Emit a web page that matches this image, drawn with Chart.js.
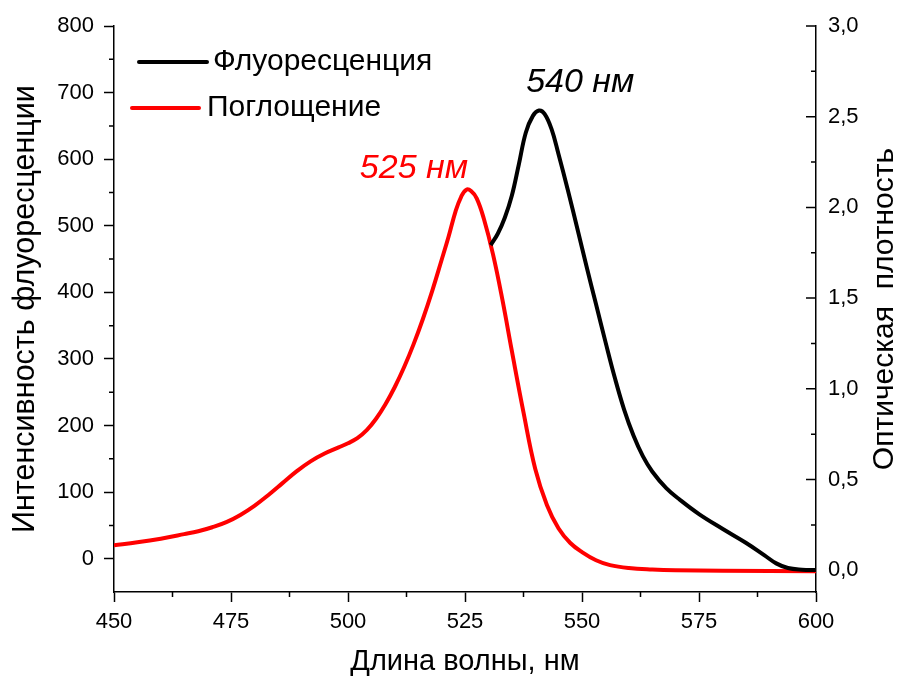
<!DOCTYPE html>
<html>
<head>
<meta charset="utf-8">
<script src="https://cdn.jsdelivr.net/npm/chart.js@4.4.1/dist/chart.umd.min.js"></script>
<style>
  html, body { margin: 0; padding: 0; background: #fff; }
  #wrap { width: 901px; height: 684px; }
</style>
</head>
<body>
<div id="wrap"><canvas id="chart" width="901" height="684"></canvas></div>
<script>
// Fluorescence (left axis), wavelength in nm
const fluorWl  = [530.5, 532, 533.5, 535, 536.5, 538, 539.5, 540.8, 542, 543.5, 545, 547, 549, 551, 553, 555, 557, 559, 561, 563, 565, 568, 571, 575, 580, 585, 589, 591.5, 594, 597, 600];
const fluorVal = [471, 488, 512, 545, 592, 640, 665, 673, 668, 645, 607, 553, 496, 438, 382, 326, 272, 224, 185, 154, 131, 106, 88, 67, 45, 24, 5, -7, -14, -16.5, -17];

// Absorption (right axis, optical density)
const absWl  = [450, 455, 460, 465, 468, 471, 474, 477, 480, 483, 486, 489, 492, 495, 498, 500, 502, 504, 506, 508, 510, 512, 514, 516, 518, 520, 521.5, 523, 524.2, 525.3, 526.3, 527.5, 529, 531, 533, 535, 537.5, 540, 542.5, 545, 547.5, 550, 553, 556, 560, 565, 570, 580, 600];
const absVal = [0.138, 0.154, 0.174, 0.199, 0.215, 0.237, 0.265, 0.305, 0.355, 0.415, 0.48, 0.545, 0.6, 0.643, 0.677, 0.70, 0.728, 0.772, 0.835, 0.915, 1.01, 1.12, 1.245, 1.385, 1.54, 1.71, 1.84, 1.98, 2.06, 2.098, 2.09, 2.05, 1.94, 1.74, 1.49, 1.21, 0.87, 0.56, 0.36, 0.23, 0.15, 0.10, 0.055, 0.028, 0.012, 0.004, 0.0, -0.003, -0.005];

const seriesNames = ['Флуоресценция', 'Поглощение'];
const peakLabels = ['540 нм', '525 нм'];
const xTitle = 'Длина волны, нм';
const yTitle = 'Интенсивность флуоресценции';
const y1Title = 'Оптическая  плотность';

const FONT = "'Liberation Sans', Arial, sans-serif";

const toPoints = (xs, ys) => xs.map((v, i) => ({ x: v, y: ys[i] }));

// minor ticks, inward ticks on the right axis, legend and peak labels
const extras = {
  id: 'extras',
  afterDraw(chart) {
    const ctx = chart.ctx;
    const { x, y, y1 } = chart.scales;
    const area = chart.chartArea;
    ctx.save();
    ctx.strokeStyle = '#000';
    ctx.lineWidth = 1.5;
    ctx.beginPath();
    // x minor ticks (outward)
    for (let v = 462.5; v < 600; v += 25) {
      const px = x.getPixelForValue(v);
      ctx.moveTo(px, area.bottom); ctx.lineTo(px, area.bottom + 5);
    }
    // left minor ticks (outward)
    for (let v = 50; v < 800; v += 100) {
      const py = y.getPixelForValue(v);
      ctx.moveTo(area.left, py); ctx.lineTo(area.left - 5, py);
    }
    // right ticks (inward)
    for (let v = 0; v <= 3.001; v += 0.25) {
      const py = y1.getPixelForValue(v);
      const major = Math.abs(v * 2 - Math.round(v * 2)) < 1e-6;
      ctx.moveTo(area.right, py); ctx.lineTo(area.right - (major ? 10 : 5), py);
    }
    ctx.stroke();

    // legend
    ctx.lineWidth = 4;
    ctx.lineCap = 'round';
    ctx.strokeStyle = '#000';
    ctx.beginPath(); ctx.moveTo(139, 62); ctx.lineTo(207, 62); ctx.stroke();
    ctx.strokeStyle = '#ff0000';
    ctx.beginPath(); ctx.moveTo(132, 108); ctx.lineTo(199, 108); ctx.stroke();
    ctx.fillStyle = '#000';
    ctx.font = '30px ' + FONT;
    ctx.textBaseline = 'middle';
    ctx.textAlign = 'left';
    ctx.fillText(seriesNames[0], 213, 62);
    ctx.fillText(seriesNames[1], 207, 108);

    // peak labels
    ctx.font = 'italic 34px ' + FONT;
    ctx.fillStyle = '#000';
    ctx.textAlign = 'left';
    ctx.fillText(peakLabels[0], x.getPixelForValue(540) - 9, y.getPixelForValue(673) - 28);
    ctx.fillStyle = '#ff0000';
    ctx.textAlign = 'right';
    ctx.fillText(peakLabels[1], x.getPixelForValue(525) + 3, y1.getPixelForValue(2.1) - 21);

    // right axis title, reading bottom to top
    ctx.fillStyle = '#000';
    ctx.font = '30px ' + FONT;
    ctx.textAlign = 'center';
    ctx.translate(885, (area.top + area.bottom) / 2);
    ctx.rotate(-Math.PI / 2);
    ctx.fillText(y1Title, 0, 0);
    ctx.restore();
  }
};

const axisBorder = { display: true, color: '#000', width: 1.5 };
const tickFont = { family: FONT, size: 22 };

new Chart(document.getElementById('chart'), {
  type: 'line',
  data: {
    datasets: [
      {
        label: seriesNames[0],
        data: toPoints(fluorWl, fluorVal),
        borderColor: '#000000',
        borderWidth: 4,
        pointRadius: 0,
        tension: 0.4,
        yAxisID: 'y',
      },
      {
        label: seriesNames[1],
        data: toPoints(absWl, absVal),
        borderColor: '#ff0000',
        borderWidth: 4,
        pointRadius: 0,
        tension: 0.4,
        yAxisID: 'y1',
      },
    ],
  },
  options: {
    responsive: false,
    animation: false,
    layout: { padding: { top: 26, left: 0, right: 0, bottom: 0 } },
    plugins: {
      legend: { display: false },
      tooltip: { enabled: false },
    },
    scales: {
      x: {
        type: 'linear',
        min: 450,
        max: 600,
        border: axisBorder,
        grid: { drawOnChartArea: false, tickLength: 10, tickColor: '#000', tickWidth: 1.5 },
        ticks: { stepSize: 25, color: '#000', font: tickFont, padding: 7, maxRotation: 0 },
        title: { display: true, text: xTitle, color: '#000', font: { family: FONT, size: 29 }, padding: { top: 0, bottom: 5 } },
        afterFit(scale) { scale.height = 92; },
      },
      y: {
        position: 'left',
        min: -50,
        max: 800,
        border: axisBorder,
        grid: { drawOnChartArea: false, tickLength: 10, tickColor: '#000', tickWidth: 1.5 },
        ticks: { stepSize: 100, includeBounds: false, color: '#000', font: tickFont, padding: 10 },
        title: { display: true, text: yTitle, color: '#000', font: { family: FONT, size: 30.5 }, padding: { top: 7, bottom: 0 } },
        afterFit(scale) { scale.width = 114; },
      },
      y1: {
        position: 'right',
        min: -0.12,
        max: 3.0,
        border: axisBorder,
        grid: { drawOnChartArea: false, drawTicks: false },
        ticks: {
          stepSize: 0.5,
          includeBounds: false,
          color: '#000',
          font: tickFont,
          padding: 12,
          callback: v => v.toFixed(1).replace('.', ','),
        },
        afterFit(scale) { scale.width = 85; },
      },
    },
  },
  plugins: [extras],
});
</script>
</body>
</html>
